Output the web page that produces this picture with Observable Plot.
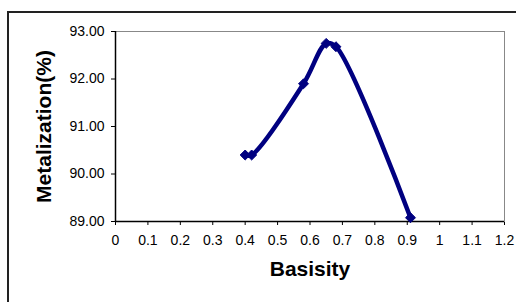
<!DOCTYPE html>
<html>
<head>
<meta charset="utf-8">
<script src="https://cdn.jsdelivr.net/npm/d3@7"></script>
<script src="https://cdn.jsdelivr.net/npm/@observablehq/plot@0.6"></script>
<style>
  html, body { margin: 0; padding: 0; background: #fff; overflow: hidden; }
  #wrap { position: relative; width: 516px; height: 302px; }
  #border { position: absolute; left: 7px; top: 11px; width: 600px; height: 400px; border: 2px solid #222; }
  #chart { position: absolute; left: 0; top: 0; }
</style>
</head>
<body>
<div id="wrap">
  <div id="border"></div>
  <div id="chart"></div>
</div>
<script>
const basisity = [0.40, 0.42, 0.58, 0.65, 0.68, 0.91];
const metalization = [90.40, 90.40, 91.90, 92.75, 92.68, 89.08];
const xTicks = [0, 0.1, 0.2, 0.3, 0.4, 0.5, 0.6, 0.7, 0.8, 0.9, 1, 1.1, 1.2];
const yTicks = [89, 90, 91, 92, 93];
const xTitle = "Basisity";
const yTitle = "Metalization(%)";

const data = basisity.map((b, i) => ({x: b, y: metalization[i]}));
const color = "#000080";

const chart = Plot.plot({
  width: 516,
  height: 302,
  marginLeft: 115,
  marginTop: 31,
  marginRight: 12,
  marginBottom: 81,
  style: {fontFamily: "Arial, 'Liberation Sans', sans-serif", fontSize: "14px", color: "#000", background: "transparent", overflow: "visible"},
  x: {domain: [0, 1.2], ticks: xTicks, tickFormat: d => String(+d.toFixed(1)), tickSize: 4, tickPadding: 10, label: null},
  y: {domain: [89, 93], ticks: yTicks, tickFormat: d => d.toFixed(2), tickSize: 4, tickPadding: 7, label: null},
  marks: [
    Plot.frame({stroke: "#888", strokeWidth: 1}),
    Plot.ruleX([0], {stroke: "#000", strokeWidth: 1.5}),
    Plot.ruleY([89], {stroke: "#000", strokeWidth: 1.5}),
    Plot.line(data, {x: "x", y: "y", stroke: color, strokeWidth: 4.5, curve: "catmull-rom"}),
    Plot.dot(data, {x: "x", y: "y", symbol: "diamond2", fill: color, stroke: color, strokeWidth: 1, r: 4.5}),
    Plot.text([yTitle], {frameAnchor: "left", textAnchor: "middle", dx: -71, rotate: -90, fontSize: 21, fontWeight: "bold", fill: "#000"}),
    Plot.text([xTitle], {frameAnchor: "bottom", textAnchor: "middle", dy: 54, fontSize: 21, fontWeight: "bold", fill: "#000"})
  ]
});
document.getElementById("chart").appendChild(chart);
</script>
</body>
</html>
